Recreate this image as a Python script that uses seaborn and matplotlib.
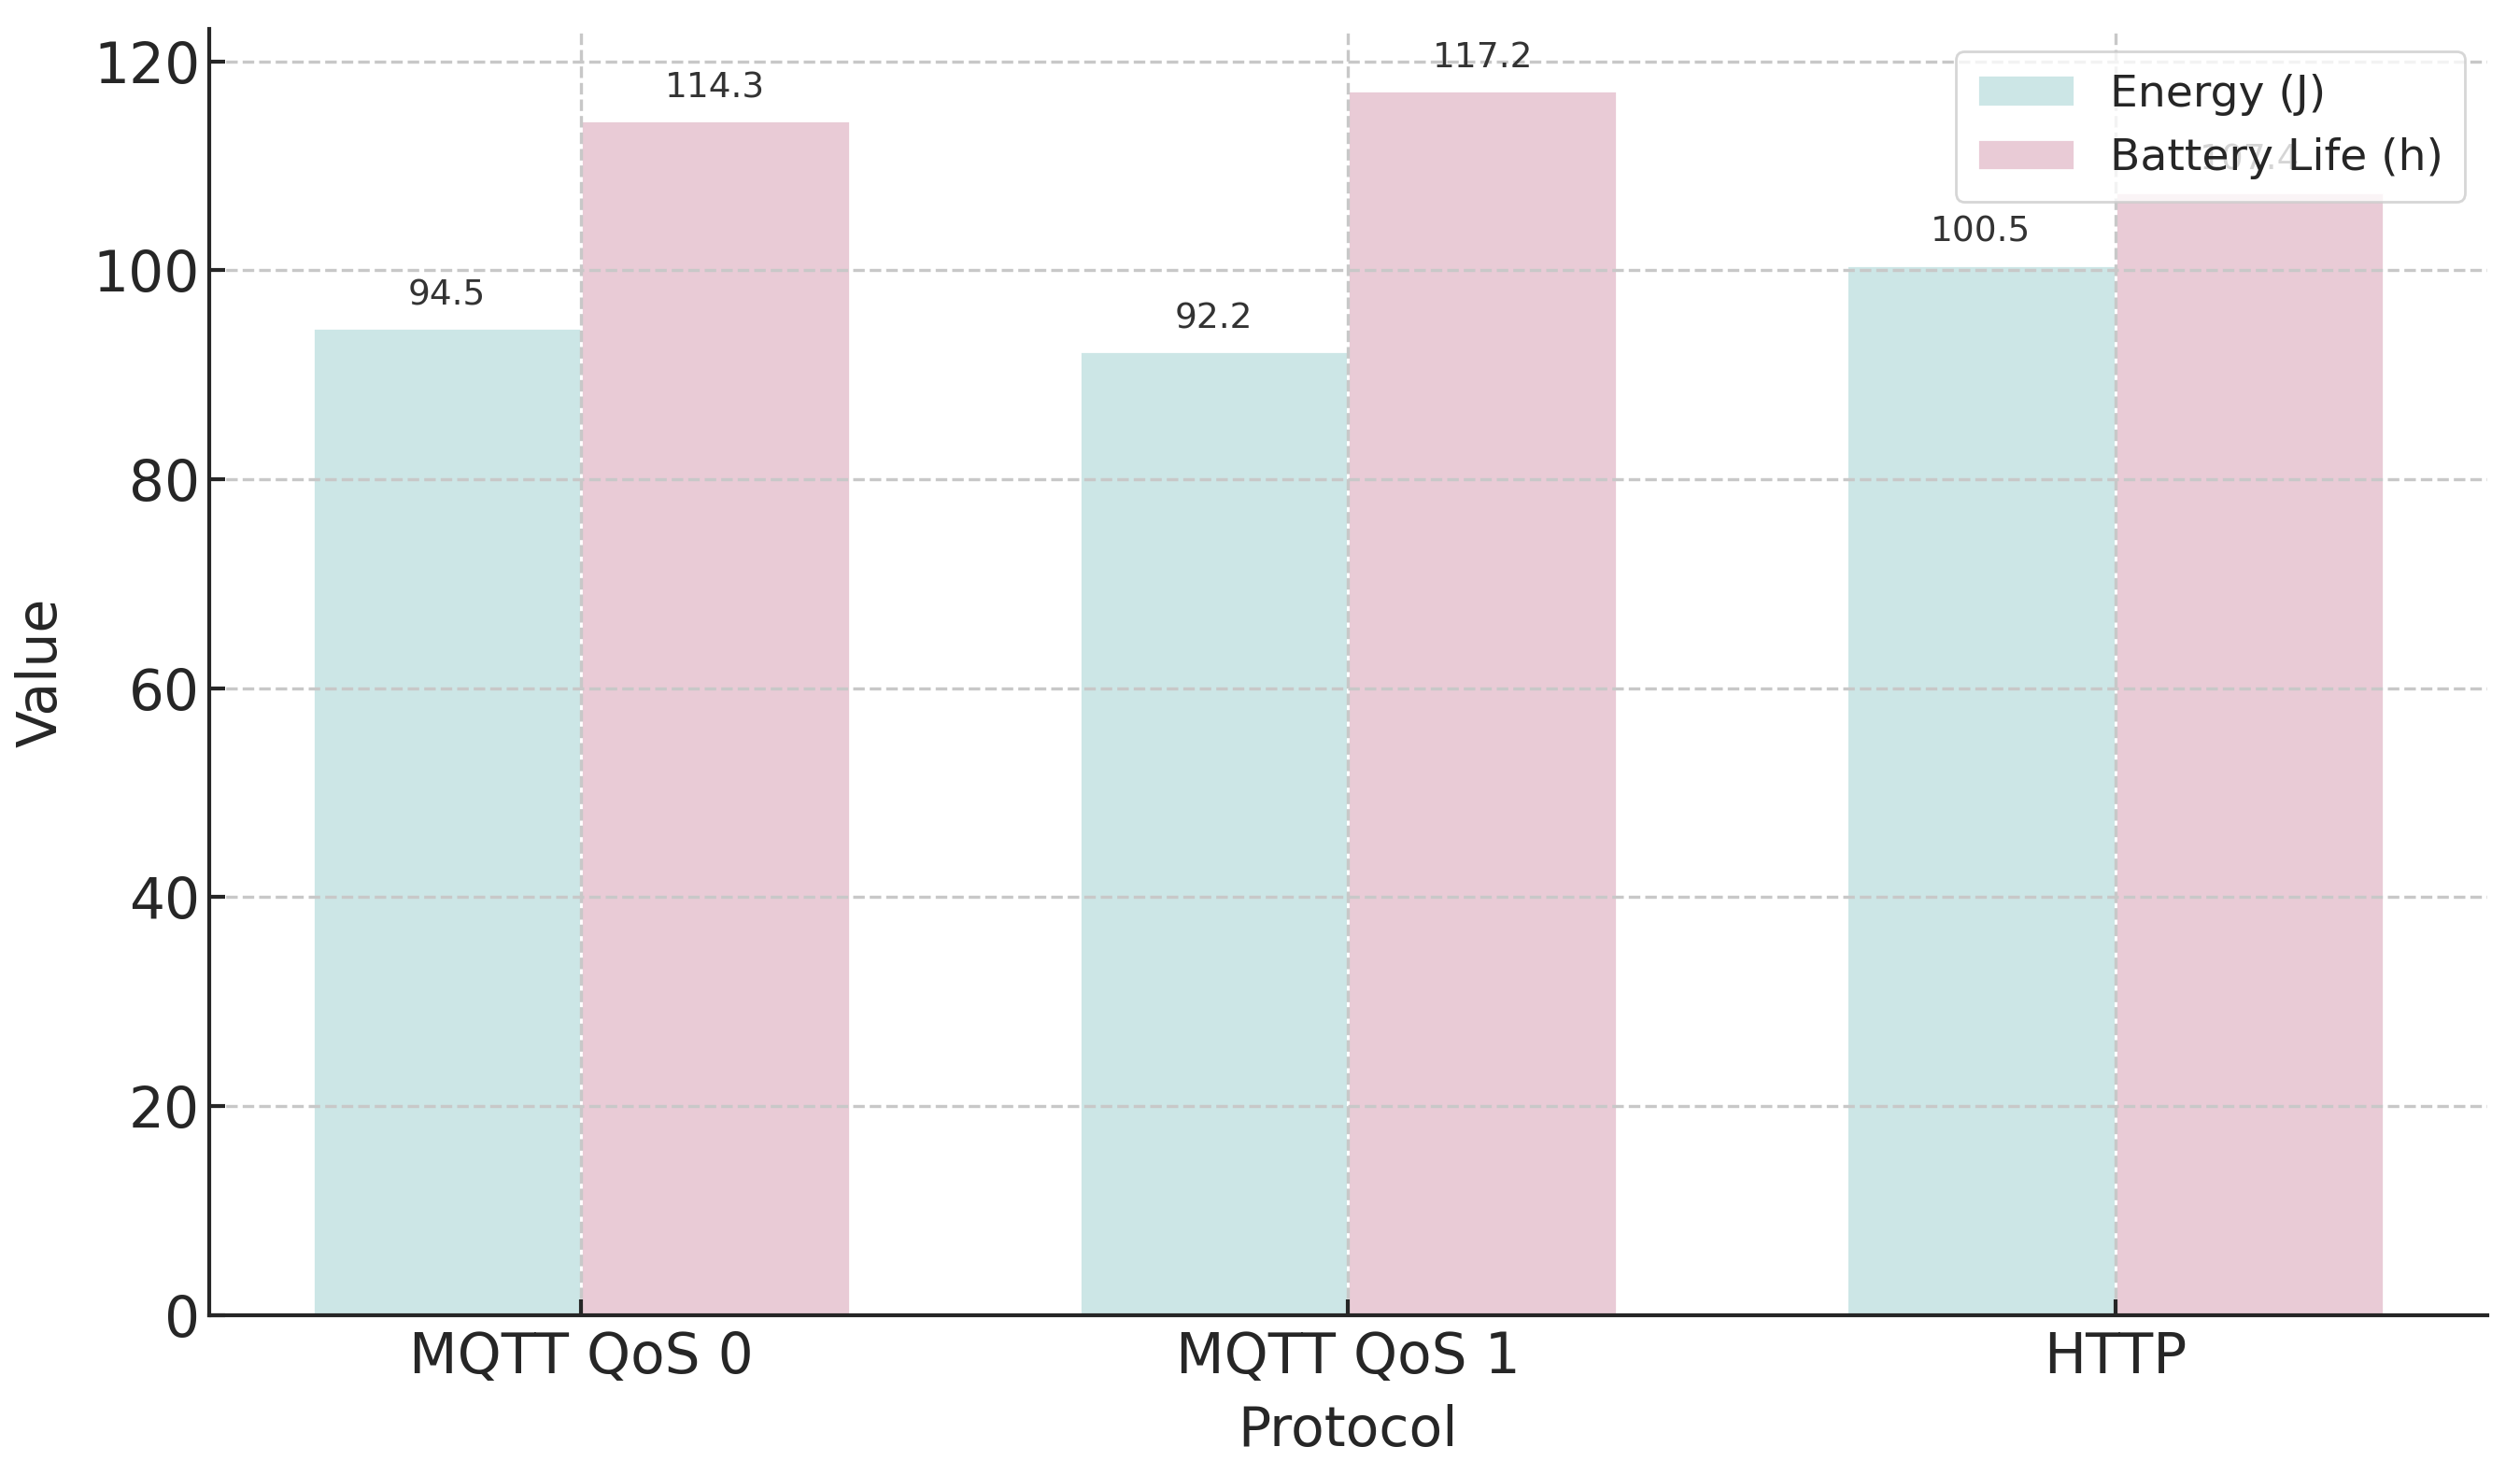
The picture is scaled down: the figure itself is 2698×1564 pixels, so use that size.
import matplotlib
matplotlib.use('Agg')
import matplotlib.pyplot as plt
import pandas as pd
import seaborn as sns

# values
protocols = ['MQTT QoS 0', 'MQTT QoS 1', 'HTTP']
energy = [94.5, 92.2, 100.5]
battery = [114.3, 117.2, 107.4]
series_names = ['Energy (J)', 'Battery Life (h)']
colors = ['#cce6e6', '#e9cbd6']

df = pd.DataFrame({'Protocol': protocols * 2,
                   'Value': energy + battery,
                   'Metric': [series_names[0]] * 3 + [series_names[1]] * 3})

sns.set_style('ticks')
plt.rcParams['font.family'] = ['DejaVu Sans']

fig, ax = plt.subplots(figsize=(13.49, 7.82), dpi=200)
fig.subplots_adjust(left=0.083, right=0.987, bottom=0.100, top=0.980)

sns.barplot(data=df, x='Protocol', y='Value', hue='Metric', palette=colors,
            width=0.7, gap=0, saturation=1, ax=ax)

for cont in ax.containers:
    ax.bar_label(cont, fmt='%.1f', padding=6, fontsize=13.5, color='#333333')

# default matplotlib margins instead of seaborn's -0.5..n-0.5
ax.set_xlim(-0.485, len(protocols) - 1 + 0.485)
ax.set_ylim(0, max(battery) * 1.05)

ax.grid(True, linestyle='--', color='#c8c8c8', linewidth=1.2)
ax.set_axisbelow(False)
sns.despine(ax=ax)
for s in ['left', 'bottom']:
    ax.spines[s].set_linewidth(1.5)
    ax.spines[s].set_zorder(4)
ax.tick_params(direction='in', length=6, width=1.5, labelsize=21.5)
ax.tick_params(axis='x', pad=6)

ax.set_xlabel('Protocol', fontsize=21, labelpad=7)
ax.set_ylabel('Value', fontsize=21, labelpad=10)

leg = ax.legend(loc='upper right', fontsize=17, title=None, fancybox=True,
                handlelength=2.2, borderpad=0.5)

fig.savefig('out.png', dpi=200)
